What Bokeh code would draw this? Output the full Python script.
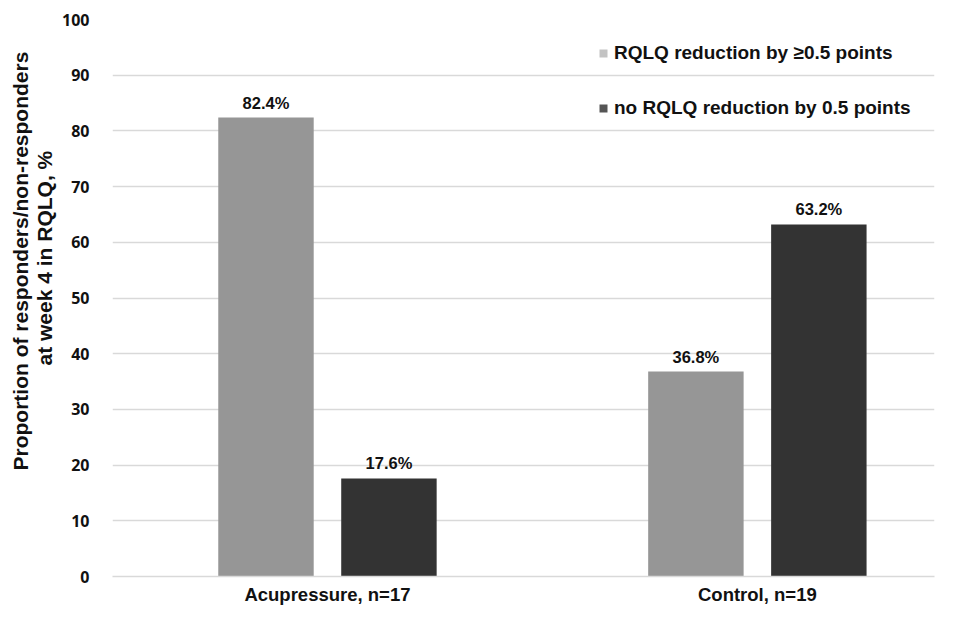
from bokeh.plotting import figure
from bokeh.models import ColumnDataSource, Legend, LegendItem, FixedTicker, Range1d, Title
from bokeh.embed import file_html
from bokeh.resources import INLINE
from bokeh.core.properties import value

groups = ["Acupressure, n=17", "Control, n=19"]
responders = [82.4, 36.8]
non_responders = [17.6, 63.2]
series_names = ["RQLQ reduction by \u22650.5 points", "no RQLQ reduction by 0.5 points"]
y_title_lines = ["Proportion of responders/non-responders", "at week 4 in RQLQ, %"]
y_ticks = [0, 10, 20, 30, 40, 50, 60, 70, 80, 90, 100]

centers = [0.5 + i for i in range(len(groups))]
off = 0.143
bw = 0.222

src1 = ColumnDataSource(dict(x=[c - off for c in centers], top=responders,
                             lab=[f"{v:.1f}%" for v in responders]))
src2 = ColumnDataSource(dict(x=[c + off for c in centers], top=non_responders,
                             lab=[f"{v:.1f}%" for v in non_responders]))

TOP, BOTTOM = 19, 28
H = 607
frame_bottom = 576

p = figure(width=942, height=H, output_backend="svg", toolbar_location=None,
           x_range=Range1d(0, 1.912), y_range=Range1d(0, 100),
           min_border_left=112, min_border_top=TOP, min_border_bottom=BOTTOM, min_border_right=8)
p.outline_line_color = None
p.background_fill_color = "white"

p.xgrid.grid_line_color = None
p.ygrid.grid_line_color = "#d9d9d9"
p.ygrid.grid_line_width = 1.3
p.ygrid.ticker = FixedTicker(ticks=y_ticks)

r1 = p.vbar(x="x", top="top", width=bw, source=src1, fill_color="#969696", line_color=None)
r2 = p.vbar(x="x", top="top", width=bw, source=src2, fill_color="#333333", line_color=None)

# legend swatches (slightly lighter, as in the reference)
l1 = p.vbar(x=[-10], top=[0], width=0.1, fill_color="#c3c3c3", line_color=None)
l2 = p.vbar(x=[-10], top=[0], width=0.1, fill_color="#555555", line_color=None)

for s in (src1, src2):
    p.text(x="x", y="top", text="lab", source=s, text_align="center", text_baseline="bottom",
           y_offset=-6, text_font=value("Liberation Sans"), text_font_style="bold",
           text_font_size="16.5px", text_color="#111111")

p.yaxis.ticker = FixedTicker(ticks=y_ticks)
p.yaxis.axis_line_color = None
p.yaxis.major_tick_line_color = None
p.yaxis.minor_tick_line_color = None
p.yaxis.major_label_text_font = "Open Sans"
p.yaxis.major_label_text_font_style = "bold"
p.yaxis.major_label_text_font_size = "16px"
p.yaxis.major_label_text_color = "#111111"
p.yaxis.major_label_standoff = 17

# two-line y title, each line centred like the reference
line_starts = [470, 365]   # bottom end (page px) of each rotated line
standoffs = [-8, 7]
for txt, y0, so in reversed(list(zip(y_title_lines, line_starts, standoffs))):
    t = Title(text=txt, align="left", offset=frame_bottom - y0,
              text_font="Liberation Sans", text_font_style="bold",
              text_font_size="21px", text_color="#111111", standoff=so)
    p.add_layout(t, "left")

p.xaxis.ticker = FixedTicker(ticks=centers)
p.xaxis.major_label_overrides = {c: g for c, g in zip(centers, groups)}
p.xaxis.axis_line_color = "#d9d9d9"
p.xaxis.axis_line_width = 1.3
p.xaxis.major_tick_line_color = None
p.xaxis.minor_tick_line_color = None
p.xaxis.major_label_text_font = "Liberation Sans"
p.xaxis.major_label_text_font_style = "bold"
p.xaxis.major_label_text_font_size = "18.5px"
p.xaxis.major_label_text_color = "#111111"
p.xaxis.major_label_standoff = 1

legend = Legend(items=[LegendItem(label=series_names[0], renderers=[l1]),
                       LegendItem(label=series_names[1], renderers=[l2])],
                location=(486, 457), orientation="vertical")
legend.border_line_color = None
legend.background_fill_alpha = 0
legend.padding = 0
legend.margin = 0
legend.spacing = 33
legend.glyph_width = 10
legend.glyph_height = 10
legend.label_height = 10
legend.label_standoff = 6
legend.label_text_font = "Liberation Sans"
legend.label_text_font_style = "bold"
legend.label_text_font_size = "19px"
legend.label_text_color = "#111111"
p.add_layout(legend, "center")

open("out.html", "w").write(file_html(p, INLINE))
